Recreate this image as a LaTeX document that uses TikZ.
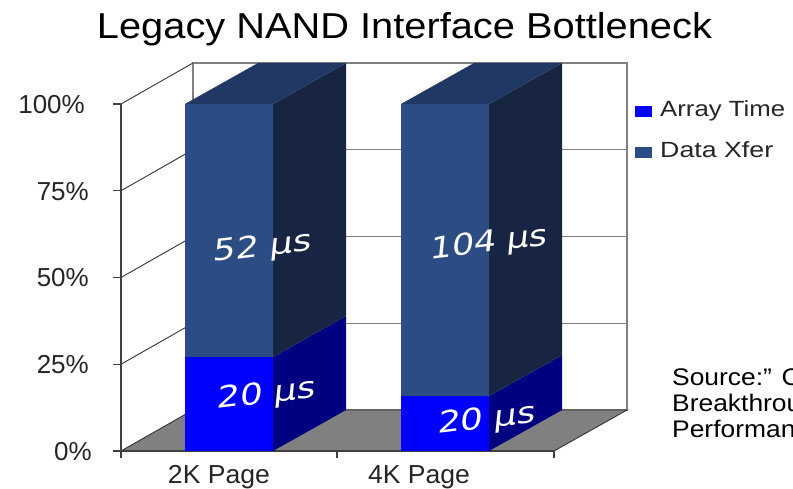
\documentclass[tikz,border=0pt]{standalone}
\usepackage{fontspec}
\setmainfont{Liberation Sans}
\newfontfamily\barfont{DejaVu Sans}
% stretch a text to a given width, keeping its natural height
\newcommand\widthto[2]{\resizebox{#1}{\height}{#2}}
\definecolor{xferfront}{RGB}{44,76,132}
\definecolor{xfertop}{RGB}{34,56,100}
\definecolor{xferside}{RGB}{24,37,66}
\definecolor{arrayfront}{RGB}{0,0,255}
\definecolor{arrayside}{RGB}{0,0,128}
\definecolor{floorgray}{RGB}{128,128,128}
\begin{document}
\begin{tikzpicture}[x=1pt,y=-1pt,
  wallline/.style={draw=gray, line width=1.3pt},
  sideline/.style={draw=black!80, line width=0.9pt},
  axisline/.style={draw=black!75, line width=1.3pt},
  ticklabel/.style={font=\fontsize{26}{26}\selectfont, text=black!85, inner sep=0pt, anchor=east},
  catlabel/.style={font=\fontsize{26}{26}\selectfont, text=black!85, inner sep=0pt, anchor=base},
  legendlabel/.style={font=\fontsize{22}{22}\selectfont, text=black!85, inner sep=0pt, anchor=base west},
  sourcelabel/.style={font=\fontsize{24}{24}\selectfont, inner sep=0pt, anchor=base west},
  barlabel/.style={font=\barfont\fontsize{30}{30}\selectfont, text=white, inner sep=0pt,
                   anchor=base, cm={1,0.12,0.1,1,(0,0)}},
]
\useasboundingbox[fill=white] (0,0) rectangle (793,489);

% title
\node[font=\fontsize{36}{36}\selectfont, inner sep=0pt, anchor=base] (title) at (404.5,39)
  {\widthto{615pt}{Legacy NAND Interface Bottleneck}};

% back wall with gridlines
\draw[wallline, fill=white] (193,63) rectangle (627,410);
\foreach \yy in {149.75,236.5,323.25}
  \draw[wallline] (193,\yy) -- (627,\yy);

% left wall: diagonals from the value axis to the back wall
\foreach \k in {0,1,2,3}
  \draw[sideline] (121,104+86.75*\k) -- (193,63+86.75*\k);

% floor
\draw[sideline, fill=floorgray] (121,451) -- (554,451) -- (627,410) -- (193,410) -- cycle;

% value axis with ticks
\draw[axisline] (121,104) -- (121,451);
\foreach \k in {0,1,2,3,4}
  \draw[axisline] (113,104+86.75*\k) -- (121,104+86.75*\k);
% category axis with ticks
\draw[axisline] (121,451) -- (554,451);
\foreach \xx in {121,337,554}
  \draw[axisline] (\xx,451) -- (\xx,458);

% bar: 2K Page
\fill[arrayfront] (185,357) rectangle (273,451);
\fill[xferfront] (185,104) rectangle (273,357);
\fill[arrayside] (273,451) -- (346,410) -- (346,316) -- (273,357) -- cycle;
\fill[xferside] (273,357) -- (346,316) -- (346,63) -- (273,104) -- cycle;
\fill[xfertop] (185,104) -- (273,104) -- (346,63) -- (258,63) -- cycle;

% bar: 4K Page
\fill[arrayfront] (401,396) rectangle (489,451);
\fill[xferfront] (401,104) rectangle (489,396);
\fill[arrayside] (489,451) -- (562,410) -- (562,355) -- (489,396) -- cycle;
\fill[xferside] (489,396) -- (562,355) -- (562,63) -- (489,104) -- cycle;
\fill[xfertop] (401,104) -- (489,104) -- (562,63) -- (474,63) -- cycle;

% value labels on the bars
\node[barlabel] (xfer2k) at (262,256) {\widthto{98pt}{52 µs}};
\node[barlabel] (xfer4k) at (488,252) {\widthto{118pt}{104 µs}};
\node[barlabel] (array2k) at (266,403) {\widthto{98pt}{20 µs}};
\node[barlabel] (array4k) at (486,428) {\widthto{98pt}{20 µs}};

% value axis labels
\node[ticklabel] (p100) at (85,105) {100\%};
\node[ticklabel] (p75) at (89,192) {75\%};
\node[ticklabel] (p50) at (89,278) {50\%};
\node[ticklabel] (p25) at (89,365) {25\%};
\node[ticklabel] (p0) at (92,452) {0\%};

% category labels
\node[catlabel] (cat2k) at (219,483) {\widthto{102pt}{2K Page}};
\node[catlabel] (cat4k) at (419,483) {\widthto{102pt}{4K Page}};

% legend
\fill[arrayfront] (635,106) rectangle (652,117);
\fill[xferfront] (635,147) rectangle (652,158);
\node[legendlabel] (legarray) at (660,117) {\widthto{125pt}{Array Time}};
\node[legendlabel] (legxfer) at (660,158) {\widthto{113pt}{Data Xfer}};

% source note, running past the right edge
\node[sourcelabel] (src1) at (672,385) {\scalebox{1.1}[1]{Source:” C}};
\node[sourcelabel] (src2) at (672,411) {\scalebox{1.1}[1]{Breakthrou}};
\node[sourcelabel] (src3) at (672,437) {\scalebox{1.1}[1]{Performan}};
\end{tikzpicture}
\end{document}
